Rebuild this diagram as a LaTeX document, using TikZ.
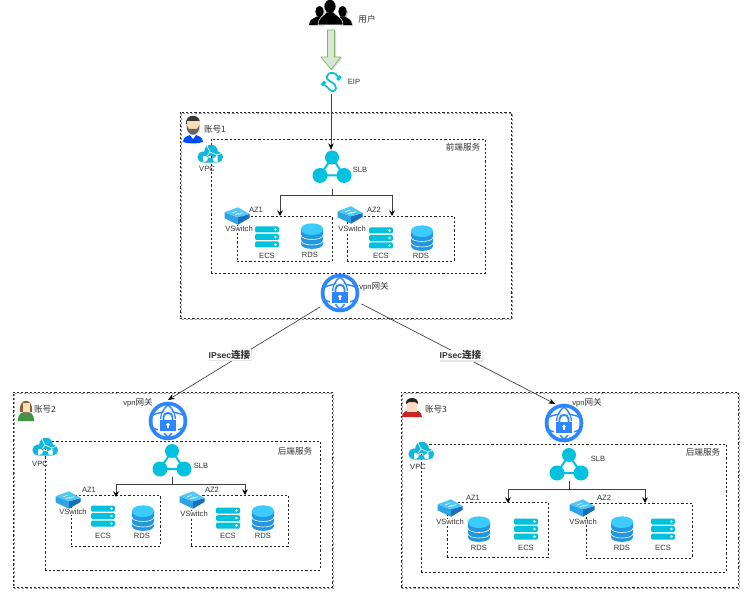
\documentclass[tikz,border=0pt]{standalone}
\usepackage{fontspec}
\setmainfont{Liberation Sans}
\newfontfamily\cj[Scale=1.13]{Noto Sans CJK SC}
\usetikzlibrary{fit,arrows.meta}
\definecolor{ecsc}{HTML}{00C1DE}
\definecolor{rdsl}{HTML}{3CCBFF}
\definecolor{rdsd}{HTML}{2397E0}
\definecolor{swl}{HTML}{4FC8F8}
\definecolor{swm}{HTML}{2DA4E6}
\definecolor{swd}{HTML}{1A70BE}
\definecolor{vpnb}{HTML}{2D85FF}
\definecolor{cloudc}{HTML}{12B7DE}
\definecolor{txt}{HTML}{333333}
\definecolor{gfill}{HTML}{D5E8D4}
\definecolor{gline}{HTML}{82B366}
\tikzset{
  x=0.75pt,y=-0.75pt,
  ic/.style 2 args={inner sep=0pt,outer sep=0pt,minimum width=#1*0.75pt,minimum height=#2*0.75pt},
  ring/.style={circle,inner sep=0pt,outer sep=0pt,minimum size=#1*0.75pt},
  lbl/.style={inner sep=0pt,text=txt,font=\fontsize{5.7}{6.5}\selectfont},
  lblw/.style={lbl,fill=white,inner ysep=0.5pt,inner xsep=0.5pt},
  dbox/.style={draw=black!85,line width=0.5pt,dash pattern=on 1.6pt off 1.5pt,inner sep=0pt},
  shbox/.style={draw=black!40,line width=0.9pt,dash pattern=on 1.6pt off 1.5pt,inner sep=0pt},
  conn/.style={draw=black!75,line width=0.75pt,-{Stealth[black,length=4.2pt,width=4.2pt]}},
  thin conn/.style={draw=black!75,line width=0.5pt,-{Stealth[black,length=5pt,width=4pt]}},
  ipsec/.style={inner xsep=0.5pt,inner ysep=0.5pt,fill=white,text=black!80,font=\fontsize{6.4}{7.5}\selectfont\bfseries},
}
\newcommand\zbox[6][dbox]{%
  \coordinate (#2-a) at (#3,#4);\coordinate (#2-b) at (#5,#6);
  \node[#1,fit=(#2-a)(#2-b)] (#2) {};}
\newcommand\shadowbox[5]{%
  \draw[shbox] (#2+1.5,#3+1.5) rectangle (#4+1.5,#5+1.5);
  \zbox{#1}{#2}{#3}{#4}{#5}}
\newcommand\lab[4]{\node[lbl] (#1) at (#2,#3) {#4};}
\newcommand\labw[4]{\node[lblw] (#1) at (#2,#3) {#4};}
\newcommand\ecs[3]{\node[ic={24}{21}] (#1) at (#2,#3) {};
 \begin{scope}[shift={(#2,#3)}]
 \foreach \yy in {-10.5,-3,4.5}{
  \fill[ecsc,rounded corners=1pt] (-12,\yy) rectangle (12,\yy+6);
  \fill[white] (8.5,\yy+3) circle (1.3);}
 \end{scope}}
\newcommand\rds[3]{\node[ic={22}{25}] (#1) at (#2,#3) {};
 \begin{scope}[shift={(#2,#3)}]
 \fill[rdsd] (-11,-7) -- (-11,8) .. controls (-11,14.5) and (11,14.5) .. (11,8) -- (11,-7) -- cycle;
 \foreach \yy in {-1,4.5}{
  \draw[white,line width=0.45pt] (-11,\yy) .. controls (-11,\yy+6) and (11,\yy+6) .. (11,\yy);}
 \fill[rdsl] (-11,-7) .. controls (-11,-14.5) and (11,-14.5) .. (11,-7) .. controls (11,1) and (-11,1) .. (-11,-7) -- cycle;
 \end{scope}}
\newcommand\vsw[3]{\node[ic={25}{17}] (#1) at (#2,#3) {};
 \begin{scope}[shift={(#2,#3)}]
 \fill[swm] (-12.5,-3.7) -- (1,1.3) -- (1,8.7) -- (-12.5,2.3) -- cycle;
 \fill[swd] (12.5,-2) -- (1,1.3) -- (1,8.7) -- (12.5,2) -- cycle;
 \fill[swl] (-12.5,-3.7) -- (1,-8.7) -- (12.5,-2) -- (1,1.3) -- cycle;
 \draw[white,line width=0.35pt] (-5,-3) -- (0,-5) (1,-1.5) -- (6,-3.5) (-2,-1) -- (2,-3);
 \end{scope}}
\newcommand\slbicon[3]{\node[ic={38}{33}] (#1) at (#2,#3) {};
 \begin{scope}[shift={(#2,#3)}]
 \draw[ecsc,line width=1.5pt] (0,-9) -- (-12,9) -- (12,9) -- cycle;
 \fill[ecsc] (0,-9) circle (7) (-12,9) circle (7.5) (12,9) circle (7.5);
 \end{scope}}
\newcommand\vpn[4]{\node[ring=#4] (#1) at (#2,#3) {};
 \begin{scope}[shift={(#2,#3)}]
 \fill[vpnb] (0,0) circle (19.3);
 \fill[white] (0,0) circle (15.5);
 \draw[vpnb,line width=1.05pt] (0,-16) .. controls (-10,-9) and (-10,9) .. (0,16)
   (0,-16) .. controls (10,-9) and (10,9) .. (0,16)
   (-15,-6) .. controls (-7,-10) and (7,-10) .. (15,-6)
   (-15,7) .. controls (-7,11) and (7,11) .. (15,7);
 \fill[white] (-10,-2) rectangle (10,11.5);
 \draw[white,line width=2pt] (-5,0) -- (-5,-4) .. controls (-5,-11) and (5,-11) .. (5,-4) -- (5,0);
 \draw[vpnb,line width=1.4pt] (-4.5,0) -- (-4.5,-4) .. controls (-4.5,-9.5) and (4.5,-9.5) .. (4.5,-4) -- (4.5,0);
 \fill[vpnb] (-8,-1) rectangle (8,10);
 \fill[white] (0,3.5) circle (1.8);
 \fill[white] (-0.8,3.5) rectangle (0.8,7);
 \end{scope}}
\newcommand\cloudicon[3]{\node[ic={26}{18}] (#1) at (#2,#3) {};
 \begin{scope}[shift={(#2,#3)}]
 \fill[cloudc] (-7,3) circle (5.6) (1,-2.5) circle (6.8) (7.5,3) circle (5.6) (-7,2) rectangle (7.5,8.6);
 \draw[white,line width=0.45pt] (-3,-8) -- (0,-2) -- (7,1) (0,-2) -- (-3,2) (7,1) -- (4,8) (7,1) -- (12,-1);
 \end{scope}}
\newcommand\shadedtext[4]{%
 \node[ipsec,fill=black!10,text=black!10] at (#2+1.3,#3+1.3) {#4};
 \node[ipsec] (#1) at (#2,#3) {#4};}
\begin{document}
\begin{tikzpicture}
\useasboundingbox (0,0) rectangle (746,595);
\fill[white] (0,0) rectangle (746,595);

% ---------- account 1
\shadowbox{acc1}{180}{112}{511}{318}
\zbox{vpc1}{211}{139}{485}{273}
\zbox{az11}{237}{216}{332}{261}
\zbox{az12}{347}{216}{454}{261}
% ---------- account 2
\shadowbox{acc2}{13}{392}{332}{587}
\zbox{vpc2}{45}{441}{320}{570}
\zbox{az21}{71}{495}{160}{546}
\zbox{az22}{191}{495}{288}{546}
% ---------- account 3
\shadowbox{acc3}{401}{392}{738}{587}
\zbox{vpc3}{421}{444}{726}{572}
\zbox{az31}{447}{502}{548}{557}
\zbox{az32}{586}{503}{692}{558}

% ---------- users
\node[ic={44}{26}] (users) at (331,13) {};
\begin{scope}[shift={(331,13)}]
 \foreach \col/\dx/\dy in {black!22/1.2/1.2,black/0/0}{
 \begin{scope}[shift={(\dx,\dy)}]
 \fill[\col] (-11.5,-1.5) ellipse (4.2 and 5.6) (11.5,-1.5) ellipse (4.2 and 5.6);
 \fill[\col] (-22,12) .. controls (-22,6) and (-17,5.5) .. (-14,3.5) -- (-9,3.5) -- (-8,12) -- cycle;
 \fill[\col] (21,12) .. controls (21,6) and (16,5.5) .. (14,3.5) -- (9,3.5) -- (8,12) -- cycle;
 \end{scope}}
 \fill[black,draw=white,line width=0.4pt] (-1,-6.5) ellipse (5.6 and 6.6);
 \fill[black,draw=white,line width=0.4pt] (-13,12) .. controls (-13,4) and (-7,3) .. (-4.5,-1) -- (2.5,-1) .. controls (5,3) and (12,4) .. (12,12) -- cycle;
 \fill[black] (-1,-6.5) ellipse (5.6 and 6.6);
\end{scope}
\lab{lusers}{367}{19.5}{\cj 用户}

% ---------- EIP and green arrow
\node[ic={20}{22}] (eip) at (331,83) {};
\begin{scope}[shift={(331,82)}]
 \draw[ecsc,line width=1.3pt,line cap=round] (7,-5) .. controls (5,-10) and (-2,-11) .. (-4,-6)
   .. controls (-6,-1) and (3,0) .. (4,3) .. controls (7,8) and (2,11) .. (-1,8) -- (-6,3);
 \fill[ecsc,rotate around={50:(8,-4)}] (5.5,-5.5) rectangle (10.5,-2.5);
 \fill[ecsc,rotate around={50:(-7.5,1.5)}] (-10,0) rectangle (-5,3);
\end{scope}
\coordinate (garrowtop) at (331,30);
\path[fill=black!15] (329,31) -- (336,31) -- (336,58) -- (342,58) -- (332,70.8) -- (322,58) -- (329,58) -- cycle;
\draw[draw=gline,fill=gfill,line width=0.5pt]
  (garrowtop) ++(-3.5,0) -- ++(7,0) -- ++(0,27) -- ++(6.5,0) -- ++(-10,12.5) -- ++(-10,-12.5) -- ++(6.5,0) -- cycle;
\lab{leip}{354}{82}{EIP}

% ---------- account 1 content
\node[ic={20}{27}] (ava1) at (193,128) {};
\begin{scope}[shift={(193,128)}]
 \fill[blue!70!cyan] (-10,14) .. controls (-10,9) and (-5,8) .. (-3,7) -- (3,7) .. controls (5,8) and (10,9) .. (10,14) .. controls (4,16) and (-4,16) .. (-10,14) -- cycle;
 \fill[white] (-3,7) -- (3,7) -- (0,11) -- cycle;
 \fill[black!78] (-7,-4) .. controls (-8,-15) and (8,-15) .. (7,-4) -- cycle;
 \fill[orange!30!white] (-6.5,-7) -- (6.5,-7) -- (6.5,4) -- (-6.5,4) -- cycle;
 \fill[black!60] (-6.5,-3) .. controls (-7,10) and (7,10) .. (6.5,-3) -- (4,1) -- (-4,1) -- cycle;
\end{scope}
\lab{lacc1}{215}{129}{\cj 账号1}
\lab{lsvc1}{463}{147}{\cj 前端服务}
\cloudicon{cl1}{210}{154}
\lab{lvpc1}{207}{169}{VPC}
\slbicon{slb1}{332}{166.5}
\lab{lslb1}{360}{170}{SLB}
\vsw{sw11}{237}{216}
\labw{lsw11}{239}{229}{VSwitch}
\lab{laz11}{256}{210}{AZ1}
\ecs{e11}{267}{237}
\lab{le11}{267}{256}{ECS}
\rds{r11}{312}{236}
\lab{lr11}{310}{255}{RDS}
\vsw{sw12}{350}{215}
\labw{lsw12}{352}{229}{VSwitch}
\lab{laz12}{374}{210}{AZ2}
\ecs{e12}{381}{238}
\lab{le12}{381}{256}{ECS}
\rds{r12}{422}{238}
\lab{lr12}{421}{256}{RDS}
\vpn{vpn1}{340}{293}{48}
\lab{lvpn1}{374}{287}{vpn\cj 网关}

% ---------- account 2 content
\node[ic={16}{22}] (ava2) at (26,409) {};
\begin{scope}[shift={(26,409)}]
 \fill[brown!75!black] (-6,3) .. controls (-8,-12) and (8,-12) .. (6,3) -- cycle;
 \fill[orange!25!white] (-3.5,-6) rectangle (3.5,3);
 \fill[green!45!black!75!white] (-8,12) .. controls (-8,4) and (-4,3) .. (0,3) .. controls (4,3) and (8,4) .. (8,12) -- cycle;
 \fill[red!45!black!60!white] (-1.5,3) -- (1.5,3) -- (0,8) -- cycle;
\end{scope}
\lab{lacc2}{45}{409}{\cj 账号2}
\lab{lvpn2}{138}{403}{vpn\cj 网关}
\vpn{vpn2}{168}{421}{42}
\lab{lsvc2}{295}{451}{\cj 后端服务}
\cloudicon{cl2}{45}{447}
\lab{lvpc2}{40}{464}{VPC}
\slbicon{slb2}{172}{460}
\lab{lslb2}{201}{466}{SLB}
\vsw{sw21}{68}{500}
\labw{lsw21}{73}{512}{VSwitch}
\lab{laz21}{89}{490}{AZ1}
\ecs{e21}{103}{516}
\lab{le21}{103}{536}{ECS}
\rds{r21}{143}{518}
\lab{lr21}{142}{536}{RDS}
\vsw{sw22}{192}{500}
\labw{lsw22}{194}{514}{VSwitch}
\lab{laz22}{212}{490}{AZ2}
\ecs{e22}{228}{518}
\lab{le22}{228}{536}{ECS}
\rds{r22}{263}{518}
\lab{lr22}{263}{536}{RDS}

% ---------- account 3 content
\node[ic={20}{20}] (ava3) at (412,408) {};
\begin{scope}[shift={(412,408)}]
 \fill[red!75!black!85!white] (-10,9) .. controls (-10,3) and (-4,2) .. (0,2) .. controls (4,2) and (10,3) .. (10,9) -- cycle;
 \fill[red!12!orange!25!white] (-5,-6) rectangle (5,4);
 \fill[black!85] (-6,-4) .. controls (-7,-12) and (7,-12) .. (6,-4) -- (3,-6) -- (-3,-6) -- cycle;
\end{scope}
\lab{lacc3}{436}{409}{\cj 账号3}
\vpn{vpn3}{564}{423}{42}
\lab{lvpn3}{587}{403}{vpn\cj 网关}
\lab{lsvc3}{703}{452}{\cj 后端服务}
\cloudicon{cl3}{421}{451}
\lab{lvpc3}{418}{467}{VPC}
\slbicon{slb3}{569}{464}
\lab{lslb3}{598}{459}{SLB}
\vsw{sw31}{450}{508}
\labw{lsw31}{450}{522}{VSwitch}
\lab{laz31}{473}{498}{AZ1}
\rds{r31}{479}{529}
\lab{lr31}{479}{548}{RDS}
\ecs{e31}{526}{529}
\lab{le31}{526}{548}{ECS}
\vsw{sw32}{582}{508}
\labw{lsw32}{583}{522}{VSwitch}
\lab{laz32}{604}{498}{AZ2}
\rds{r32}{622}{529}
\lab{lr32}{622}{548}{RDS}
\ecs{e32}{663}{529}
\lab{le32}{663}{548}{ECS}

% ---------- connectors
\draw[thin conn] (eip.south) -- (eip.south |- slb1.north);
\coordinate (s1) at (332,189);
\coordinate (t11) at (280,216);
\coordinate (t12) at (392,216);
\draw[conn] (s1) -- ++(0,7) -| (t11);
\draw[conn] (s1) -- ++(0,7) -| (t12);
\coordinate (t21) at (116,497);
\coordinate (t22) at (245,495);
\draw[conn] (slb2.south) -- ++(0,8) -| (t21);
\draw[conn] (slb2.south) -- ++(0,8) -| (t22);
\coordinate (t31) at (508,503);
\coordinate (t32) at (645,503);
\draw[conn] (slb3.south) -- ++(0,9) -| (t31);
\draw[conn] (slb3.south) -- ++(0,9) -| (t32);
\draw[thin conn] (vpn1.215) -- (vpn2.north);
\draw[thin conn] (vpn1.-27) -- (vpn3.115);
\shadedtext{ip1}{229.5}{354.5}{IPsec\cj 连接}
\shadedtext{ip2}{460.5}{355}{IPsec\cj 连接}
\end{tikzpicture}
\end{document}
